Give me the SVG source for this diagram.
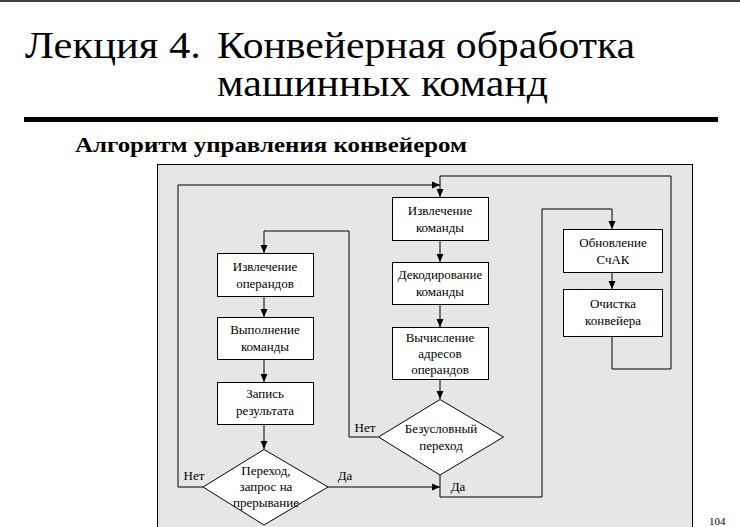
<svg xmlns="http://www.w3.org/2000/svg" width="740" height="527" viewBox="0 0 740 527" font-family="'Liberation Serif', 'DejaVu Serif', serif">
<defs>
<marker id="ah" markerWidth="8" markerHeight="8" refX="8" refY="4" orient="auto" markerUnits="userSpaceOnUse">
<path d="M0,0.5 L8,4 L0,7.5 Z" fill="#000"/>
</marker>
<style>
text{font-family:'Liberation Serif','DejaVu Serif',serif;fill:#000}
.n{font-size:13px;text-anchor:middle}
.b{fill:#fff;stroke:#000;stroke-width:1}
.c{fill:none;stroke:#000;stroke-width:1}
.a{marker-end:url(#ah)}
</style>
</defs>
<rect width="740" height="527" fill="#fff"/>
<line x1="0" y1="1" x2="740" y2="1" stroke="#000" stroke-width="1.5"/>
<g id="title">
<text x="25" y="58" font-size="38" textLength="176" lengthAdjust="spacingAndGlyphs">Лекция 4.</text>
<text x="217" y="58" font-size="38" textLength="418" lengthAdjust="spacingAndGlyphs">Конвейерная обработка</text>
<text x="217" y="96" font-size="38" textLength="331" lengthAdjust="spacingAndGlyphs">машинных команд</text>
</g>
<rect x="24" y="117" width="694" height="5" fill="#000"/>
<text x="75" y="152" font-size="20" font-weight="bold" textLength="392" lengthAdjust="spacingAndGlyphs">Алгоритм управления конвейером</text>
<rect x="157.5" y="164.5" width="535" height="370" fill="#e6e6e6" stroke="#000" stroke-width="1"/>
<text x="709" y="525" font-size="11">104</text>

<g id="connectors">
<path class="c a" d="M612,336 V369 H671 V176 H440 V197"/>
<path class="c a" d="M203,487 H178 V185 H440"/>
<path class="c a" d="M440,240 V262"/>
<path class="c a" d="M440,304 V327"/>
<path class="c a" d="M440,379 V399"/>
<path class="c a" d="M378,437 H349 V231 H264 V253"/>
<path class="c a" d="M440,475 V497 H542 V209 H612 V229"/>
<path class="c a" d="M328,487 H440"/>
<path class="c a" d="M264,296 V317"/>
<path class="c a" d="M264,359 V382"/>
<path class="c a" d="M264,424 V449"/>
<path class="c a" d="M612,272 V289"/>
<text class="n" x="365" y="432">Нет</text>
<text class="n" x="458" y="491">Да</text>
<text class="n" x="345" y="480">Да</text>
<text class="n" x="194" y="480">Нет</text>
</g>

<g id="n1"><rect class="b" x="392.5" y="197.5" width="96" height="43"/><text class="n" x="440" y="215">Извлечение</text><text class="n" x="440" y="232">команды</text></g>
<g id="n2"><rect class="b" x="392.5" y="262.5" width="96" height="42"/><text class="n" x="440" y="279">Декодирование</text><text class="n" x="440" y="296">команды</text></g>
<g id="n3"><rect class="b" x="392.5" y="327.5" width="96" height="52"/><text class="n" x="440" y="342">Вычисление</text><text class="n" x="440" y="358">адресов</text><text class="n" x="440" y="374">операндов</text></g>
<g id="n4"><polygon class="b" points="440,399.5 503.5,437 440,475 378.5,437"/><text class="n" x="441" y="433">Безусловный</text><text class="n" x="441" y="450">переход</text></g>
<g id="n5"><rect class="b" x="563.5" y="229.5" width="99" height="43"/><text class="n" x="613" y="247">Обновление</text><text class="n" x="613" y="264">СчАК</text></g>
<g id="n6"><rect class="b" x="563.5" y="289.5" width="99" height="47"/><text class="n" x="613" y="308">Очистка</text><text class="n" x="613" y="325">конвейера</text></g>
<g id="n7"><rect class="b" x="217.5" y="253.5" width="96" height="43"/><text class="n" x="265" y="271">Извлечение</text><text class="n" x="265" y="288">операндов</text></g>
<g id="n8"><rect class="b" x="217.5" y="317.5" width="96" height="42"/><text class="n" x="265" y="334">Выполнение</text><text class="n" x="265" y="351">команды</text></g>
<g id="n9"><rect class="b" x="217.5" y="382.5" width="96" height="42"/><text class="n" x="265" y="398">Запись</text><text class="n" x="265" y="415">результата</text></g>
<g id="n10"><polygon class="b" points="264,449.5 328,487 264,525 203,487"/><text class="n" x="266" y="475">Переход,</text><text class="n" x="266" y="491">запрос на</text><text class="n" x="266" y="507">прерывание</text></g>
</svg>
